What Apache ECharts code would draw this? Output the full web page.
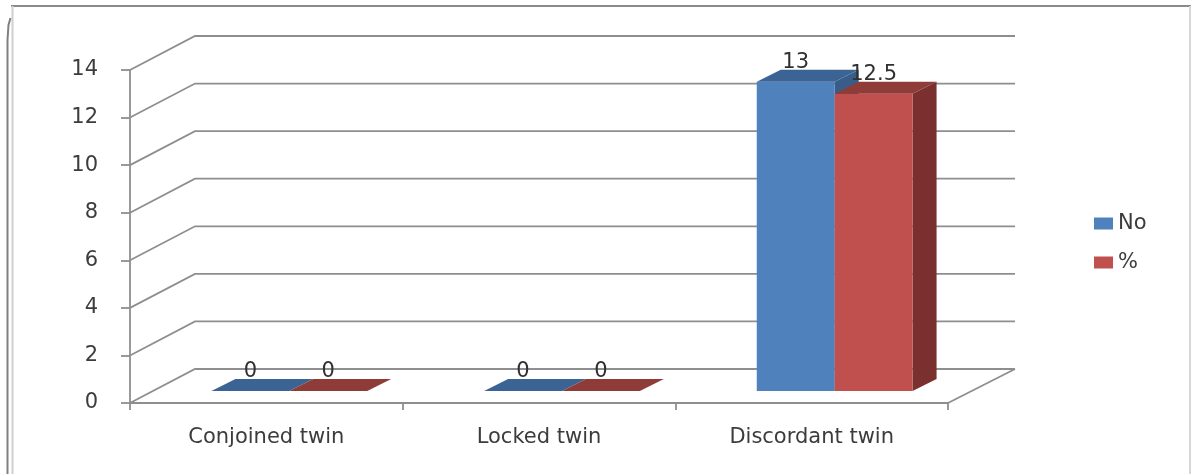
<!DOCTYPE html>
<html>
<head>
<meta charset="utf-8">
<script src="https://cdn.jsdelivr.net/npm/echarts@6/dist/echarts.min.js"></script>
<style>
html,body{margin:0;padding:0;background:#fff;}
#chart{width:1193px;height:474px;}
</style>
</head>
<body>
<div id="chart"></div>
<script>
// ---- data ----
const categories = ['Conjoined twin', 'Locked twin', 'Discordant twin'];
const seriesNames = ['No', '%'];
const valuesNo = [0, 0, 13];
const valuesPct = [0, 0, 12.5];
const yTicks = [0, 2, 4, 6, 8, 10, 12, 14];

// ---- style constants ----
const FONT = 'DejaVu Sans';
const FSIZE = 21;
const FWEIGHT = 'normal';
const TEXT = '#3c3c3c';
const GRID = '#8e8e8e';
const LW = 1.8;
const WALL_DX = 66, WALL_DY = -34;   // depth of the floor/back wall
const BAR_OX = 23, BAR_OY = -12;     // bar front plane offset
const BAR_DX = 24, BAR_DY = -12;     // bar depth
const COLORS = [
  { front: '#4F81BD', top: '#3B6393', side: '#385D8A' },
  { front: '#C0504D', top: '#8F3B38', side: '#7A302E' }
];

function gridRender(params, api) {
  const cs = params.coordSys;
  const v = api.value(1);
  const y = api.coord([0, v])[1];
  const x0 = cs.x, x1 = cs.x + cs.width;
  const children = [{
    type: 'polyline',
    shape: { points: [[x0, y], [x0 + WALL_DX - 1, y + WALL_DY], [x1 + WALL_DX + 1, y + WALL_DY]] },
    style: { stroke: GRID, lineWidth: LW, fill: null }
  }];
  if (v === 0) {
    children.push({
      type: 'line',
      shape: { x1: x1, y1: y, x2: x1 + WALL_DX + 1, y2: y + WALL_DY },
      style: { stroke: GRID, lineWidth: LW }
    });
  }
  return { type: 'group', children: children };
}

function makeBarRender(sIdx) {
  return function (params, api) {
    const idx = api.value(0);
    const val = api.value(1);
    const top = api.coord([idx, val]);
    const base = api.coord([idx, 0]);
    const catW = api.size([1, 0])[0];
    const barW = catW / 3.5;
    const xl = top[0] + BAR_OX - (sIdx === 0 ? barW : 0);
    const xr = xl + barW;
    const yt = top[1] + BAR_OY;
    const yb = base[1] + BAR_OY;
    const c = COLORS[sIdx];
    const children = [];
    if (yb - yt > 0.5) {
      children.push({
        type: 'polygon',
        shape: { points: [[xr, yt], [xr + BAR_DX, yt + BAR_DY], [xr + BAR_DX, yb + BAR_DY], [xr, yb]] },
        style: { fill: c.side }
      });
      children.push({
        type: 'rect',
        shape: { x: xl, y: yt, width: barW, height: yb - yt },
        style: { fill: c.front }
      });
    }
    children.push({
      type: 'polygon',
      shape: { points: [[xl, yt], [xr, yt], [xr + BAR_DX, yt + BAR_DY], [xl + BAR_DX, yt + BAR_DY]] },
      style: { fill: c.top }
    });
    children.push({
      type: 'text',
      style: {
        text: String(val),
        x: (xl + xr) / 2,
        y: yt + BAR_DY + 3,
        align: 'center',
        verticalAlign: 'bottom',
        font: FWEIGHT + ' ' + FSIZE + 'px "' + FONT + '"',
        fill: '#303030'
      }
    });
    return { type: 'group', children: children };
  };
}

const chart = echarts.init(document.getElementById('chart'), null, { renderer: 'canvas' });
chart.setOption({
  animation: false,
  backgroundColor: '#ffffff',
  textStyle: { fontFamily: FONT },
  grid: { left: 130, right: 245, top: 70, bottom: 71, containLabel: false },
  legend: {
    orient: 'vertical',
    left: 1089,
    top: 207,
    itemWidth: 19,
    itemHeight: 12,
    itemGap: 16,
    selectedMode: false,
    textStyle: { fontSize: FSIZE, fontWeight: FWEIGHT, color: TEXT, fontFamily: FONT, lineHeight: 23 },
    data: [{ name: seriesNames[0], icon: 'rect' }, { name: seriesNames[1], icon: 'rect' }]
  },
  xAxis: {
    type: 'category',
    data: categories,
    boundaryGap: true,
    axisLine: { show: true, lineStyle: { color: GRID, width: LW } },
    axisTick: { show: true, length: 7, lineStyle: { color: GRID, width: LW } },
    axisLabel: { fontSize: FSIZE, fontWeight: FWEIGHT, color: TEXT, margin: 24, fontFamily: FONT },
    splitLine: { show: false }
  },
  yAxis: {
    type: 'value',
    min: 0,
    max: 14,
    interval: 2,
    axisLine: { show: true, lineStyle: { color: GRID, width: LW } },
    axisTick: { show: true, length: 9, lineStyle: { color: GRID, width: LW } },
    axisLabel: { fontSize: FSIZE, fontWeight: FWEIGHT, color: TEXT, margin: 32, fontFamily: FONT },
    splitLine: { show: false }
  },
  series: [
    {
      type: 'custom',
      silent: true,
      z: 1,
      renderItem: gridRender,
      data: yTicks.map(function (v) { return [0, v]; })
    },
    {
      type: 'custom',
      name: seriesNames[0],
      z: 3,
      itemStyle: { color: COLORS[0].front },
      renderItem: makeBarRender(0),
      data: valuesNo.map(function (v, i) { return [i, v]; })
    },
    {
      type: 'custom',
      name: seriesNames[1],
      z: 4,
      itemStyle: { color: COLORS[1].front },
      renderItem: makeBarRender(1),
      data: valuesPct.map(function (v, i) { return [i, v]; })
    }
  ],
  graphic: [
    { type: 'line', shape: { x1: 11, y1: 6, x2: 1191, y2: 6 }, style: { stroke: '#8a8a8a', lineWidth: 2 }, silent: true },
    { type: 'line', shape: { x1: 12.5, y1: 6, x2: 12.5, y2: 474 }, style: { stroke: '#cfcfcf', lineWidth: 2 }, silent: true },
    { type: 'polyline', shape: { points: [[10.5, 18], [8.5, 25], [7.5, 40], [7.5, 474]] }, style: { stroke: '#808080', lineWidth: 2, fill: null }, silent: true },
    { type: 'line', shape: { x1: 1190, y1: 6, x2: 1190, y2: 474 }, style: { stroke: '#d6d6d6', lineWidth: 2 }, silent: true }
  ]
});
</script>
</body>
</html>
